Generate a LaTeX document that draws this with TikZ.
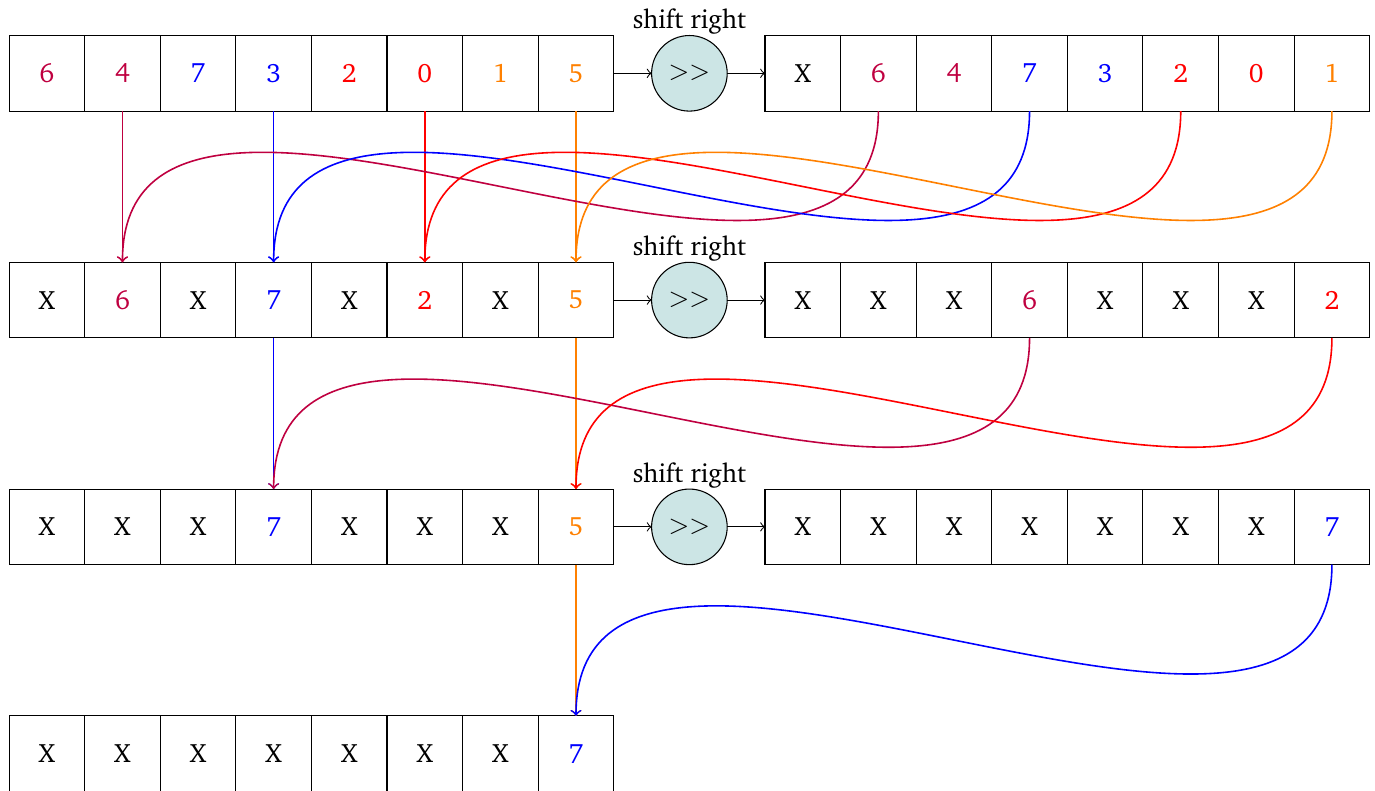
\documentclass[tikz,border=0pt]{standalone}
\usepackage[T1]{fontenc}
\usepackage{charter}
\begin{document}
\begin{tikzpicture}[
  cell/.style={draw, thin, minimum size=1cm, inner sep=0pt, outer sep=0pt},
  shifter/.style={circle, draw, thin, fill=teal!20, minimum size=1cm, inner sep=0pt, outer sep=0pt},
  link/.style={->, thin},
  flow/.style={->, semithick},
  caption/.style={anchor=base, inner sep=0pt}
]
\useasboundingbox (-0.12,-9.99) rectangle (18.07,0.47);

% stage 1: input and its shifted copy
\foreach \t/\c [count=\i] in {6/purple,4/purple,7/blue,3/blue,2/red,0/red,1/orange,5/orange}
  \node[cell, text=\c] (A\i) at (\i-0.5,-0.5) {\t};
\foreach \t/\c [count=\i] in {X/black,6/purple,4/purple,7/blue,3/blue,2/red,0/red,1/orange}
  \node[cell, text=\c] (B\i) at (\i+9.5,-0.5) {\t};

% stage 2
\foreach \t/\c [count=\i] in {X/black,6/purple,X/black,7/blue,X/black,2/red,X/black,5/orange}
  \node[cell, text=\c] (C\i) at (\i-0.5,-3.5) {\t};
\foreach \t/\c [count=\i] in {X/black,X/black,X/black,6/purple,X/black,X/black,X/black,2/red}
  \node[cell, text=\c] (D\i) at (\i+9.5,-3.5) {\t};

% stage 3
\foreach \t/\c [count=\i] in {X/black,X/black,X/black,7/blue,X/black,X/black,X/black,5/orange}
  \node[cell, text=\c] (E\i) at (\i-0.5,-6.5) {\t};
\foreach \t/\c [count=\i] in {X/black,X/black,X/black,X/black,X/black,X/black,X/black,7/blue}
  \node[cell, text=\c] (F\i) at (\i+9.5,-6.5) {\t};

% result
\foreach \t/\c [count=\i] in {X/black,X/black,X/black,X/black,X/black,X/black,X/black,7/blue}
  \node[cell, text=\c] (G\i) at (\i-0.5,-9.5) {\t};

% shift operators
\node[shifter] (S1) at (9,-0.5) {$>>$};
\node[shifter] (S2) at (9,-3.5) {$>>$};
\node[shifter] (S3) at (9,-6.5) {$>>$};
\node[caption] (T1) at ([yshift=0.09cm]S1.north) {shift right};
\node[caption] (T2) at ([yshift=0.09cm]S2.north) {shift right};
\node[caption] (T3) at ([yshift=0.09cm]S3.north) {shift right};

\draw[link] (A8.east) -- (S1.west);
\draw[link] (S1.east) -- (B1.west);
\draw[link] (C8.east) -- (S2.west);
\draw[link] (S2.east) -- (D1.west);
\draw[link] (E8.east) -- (S3.west);
\draw[link] (S3.east) -- (F1.west);

% stage 1 -> stage 2
\draw[flow, purple] (A2.south) -- (C2.north);
\draw[flow, blue]   (A4.south) -- (C4.north);
\draw[flow, red]    (A6.south) -- (C6.north);
\draw[flow, orange] (A8.south) -- (C8.north);
\draw[flow, purple] (B2.south) .. controls +(0,-4) and +(0,4) .. (C2.north);
\draw[flow, blue]   (B4.south) .. controls +(0,-4) and +(0,4) .. (C4.north);
\draw[flow, red]    (B6.south) .. controls +(0,-4) and +(0,4) .. (C6.north);
\draw[flow, orange] (B8.south) .. controls +(0,-4) and +(0,4) .. (C8.north);

% stage 2 -> stage 3
\draw[flow, blue]   (C4.south) -- (E4.north);
\draw[flow, orange] (C8.south) -- (E8.north);
\draw[flow, purple] (D4.south) .. controls +(0,-4) and +(0,4) .. (E4.north);
\draw[flow, red]    (D8.south) .. controls +(0,-4) and +(0,4) .. (E8.north);

% stage 3 -> result
\draw[flow, orange] (E8.south) -- (G8.north);
\draw[flow, blue]   (F8.south) .. controls +(0,-4) and +(0,4) .. (G8.north);
\end{tikzpicture}
\end{document}
